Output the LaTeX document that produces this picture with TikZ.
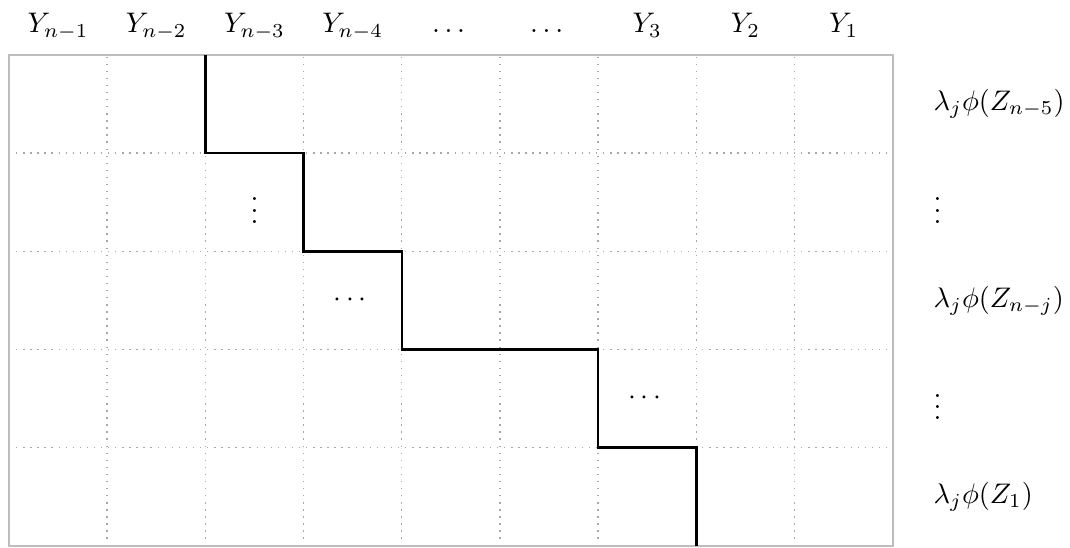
\documentclass[tikz,border=0pt]{standalone}
\usepackage{amsmath,amssymb}
\usetikzlibrary{calc}
\definecolor{FrameGray}{HTML}{BDBDBD}
\definecolor{GridGray}{HTML}{A8A8A8}

\begin{document}
\begin{tikzpicture}[x=1.22cm, y=1.22cm,
    frame/.style={FrameGray, line width=0.7pt},
    gridline/.style={GridGray, dotted, line width=0.5pt},
    path/.style={black, line width=0.9pt},
    toplabel/.style={anchor=base, inner sep=0pt},
    rowlabel/.style={anchor=west, inner sep=0pt}]
  \useasboundingbox (-0.0917,-0.02) rectangle (10.805,5.56);

  % grid
  \foreach \i in {1,...,8} \draw[gridline] (\i,0) -- (\i,5);
  \foreach \j in {1,...,4} \draw[gridline] (0,\j) -- (9,\j);
  \draw[frame] (0,0) rectangle (9,5);

  % column labels
  \foreach \lab [count=\c from 0] in {Y_{n-1},Y_{n-2},Y_{n-3},Y_{n-4},\dots,\dots,Y_3,Y_2,Y_1}
    \node[toplabel] (col\c) at (\c+0.5,5.224) {$\lab$};

  % row labels
  \node[rowlabel] (row0) at (9.41,4.5) {$\lambda_j\phi(Z_{n-5})$};
  \node[rowlabel] (row1) at (9.41,3.5) {$\vdots$};
  \node[rowlabel] (row2) at (9.41,2.5) {$\lambda_j\phi(Z_{n-j})$};
  \node[rowlabel] (row3) at (9.41,1.5) {$\vdots$};
  \node[rowlabel] (row4) at (9.41,0.5) {$\lambda_j\phi(Z_1)$};

  % dots inside the grid
  \node (dotsA) at (2.5,3.5) {$\vdots$};
  \node (dotsB) at (3.5,2.5) {$\cdots$};
  \node (dotsC) at (6.5,1.5) {$\cdots$};

  % staircase
  \draw[path] (2,5) -- (2,4) -- (3,4) -- (3,3) -- (4,3) -- (4,2)
    -- (6,2) -- (6,1) -- (7,1) -- (7,0);
\end{tikzpicture}
\end{document}
